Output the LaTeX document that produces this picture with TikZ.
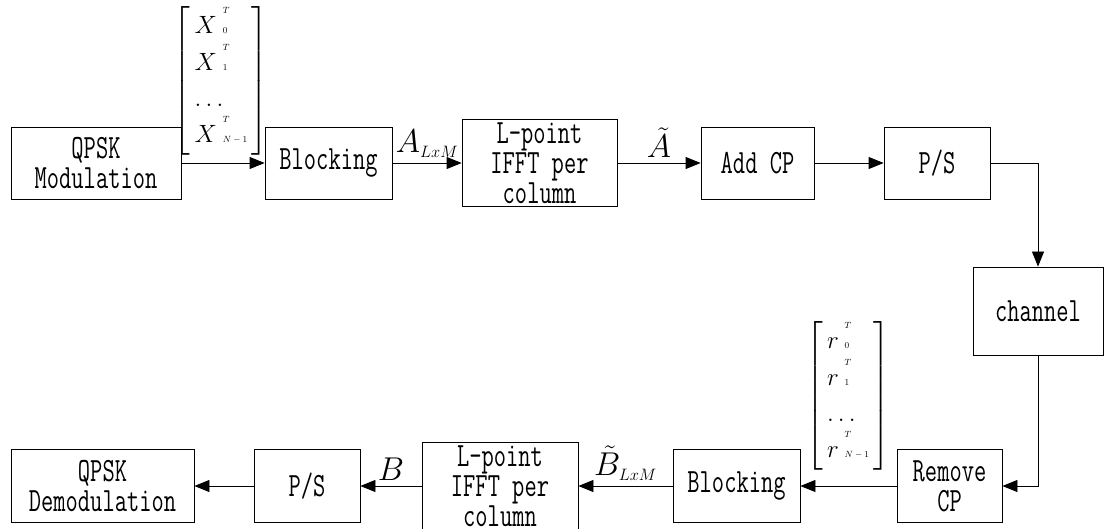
\RequirePackage{fix-cm}
\documentclass[tikz,border=0pt]{standalone}
\usepackage{amsmath}
\usepackage{fontspec}
\usetikzlibrary{arrows.meta,positioning}
\newfontfamily\boxfont[FakeStretch=0.7]{Latin Modern Mono}
\newcommand{\vecsize}{\fontsize{25}{25}\selectfont\renewcommand{\arraystretch}{1.45}}
\newcommand{\tinymath}[1]{{\fontsize{9}{9}\selectfont$#1$}}
\newcommand{\rowvec}[2]{#1\mbox{\hspace{6pt}\smash{\rlap{\raisebox{20pt}{\tinymath{T}}}}\tinymath{#2}}}

\begin{document}
\begin{tikzpicture}[x=1pt,y=-1pt,
    blockbox/.style={draw, line width=0.8pt, inner sep=0pt, align=center,
      font=\boxfont\fontsize{34}{30}\selectfont},
    sig/.style={line width=0.8pt, -{Triangle[length=15pt,width=12pt]}},
    lbl/.style={font=\fontsize{33}{33}\selectfont, inner sep=2pt, above=3pt}]
  \useasboundingbox (0,0) rectangle (1105,529);

  % Transmitter row
  \node[blockbox, minimum width=170, minimum height=72] (qmod) at (96,163) {QPSK\\Modulation};
  \node[blockbox, minimum width=127, minimum height=72] (blk1) at (328.5,163) {Blocking};
  \node[blockbox, minimum width=155, minimum height=87] (ifft1) at (539.5,163) {L-point\\IFFT per\\column};
  \node[blockbox, minimum width=113, minimum height=72] (addcp) at (757.5,163) {Add CP};
  \node[blockbox, minimum width=106, minimum height=72] (ps1) at (937,163) {P/S};

  % Channel
  \node[blockbox, minimum width=130, minimum height=88] (chan) at (1038,311) {channel};

  % Receiver row
  \node[blockbox, minimum width=105, minimum height=73] (rmcp) at (949.5,486) {Remove\\CP};
  \node[blockbox, minimum width=127, minimum height=73] (blk2) at (736.5,486) {Blocking};
  \node[blockbox, minimum width=156, minimum height=87] (ifft2) at (500,486) {L-point\\IFFT per\\column};
  \node[blockbox, minimum width=106, minimum height=73] (ps2) at (307,486) {P/S};
  \node[blockbox, minimum width=183, minimum height=73] (qdemod) at (102.5,486) {QPSK\\Demodulation};

  % Row vectors
  \node[font=\vecsize] (xvec) at (221,81)
    {$\left[\begin{array}{@{\,}l@{\,}}
      \rowvec{X}{0}\\
      \rowvec{X}{1}\\
      \ldots\\
      \rowvec{X}{N-1}
    \end{array}\right]$};
  \node[font=\vecsize] (rvec) at (848,396)
    {$\left[\begin{array}{@{\,}l@{\,}}
      \rowvec{r}{0}\\
      \rowvec{r}{1}\\
      \ldots\\
      \rowvec{r}{N-1}
    \end{array}\right]$};

  % Connectors
  \draw[sig] (qmod) -- (blk1);
  \draw[sig] (blk1) -- node[lbl] (alxm) {$A_{\scriptscriptstyle LxM}$} (ifft1);
  \draw[sig] (ifft1) -- node[lbl] (atil) {$\tilde{A}$} (addcp);
  \draw[sig] (addcp) -- (ps1);
  \draw[sig] (ps1) -| (chan);
  \draw[sig] (chan) |- (rmcp);
  \draw[sig] (rmcp) -- (blk2);
  \draw[sig] (blk2) -- node[lbl] (blxm) {$\tilde{B}_{\scriptscriptstyle LxM}$} (ifft2);
  \draw[sig] (ifft2) -- node[lbl] (bout) {$B$} (ps2);
  \draw[sig] (ps2) -- (qdemod);
\end{tikzpicture}
\end{document}
